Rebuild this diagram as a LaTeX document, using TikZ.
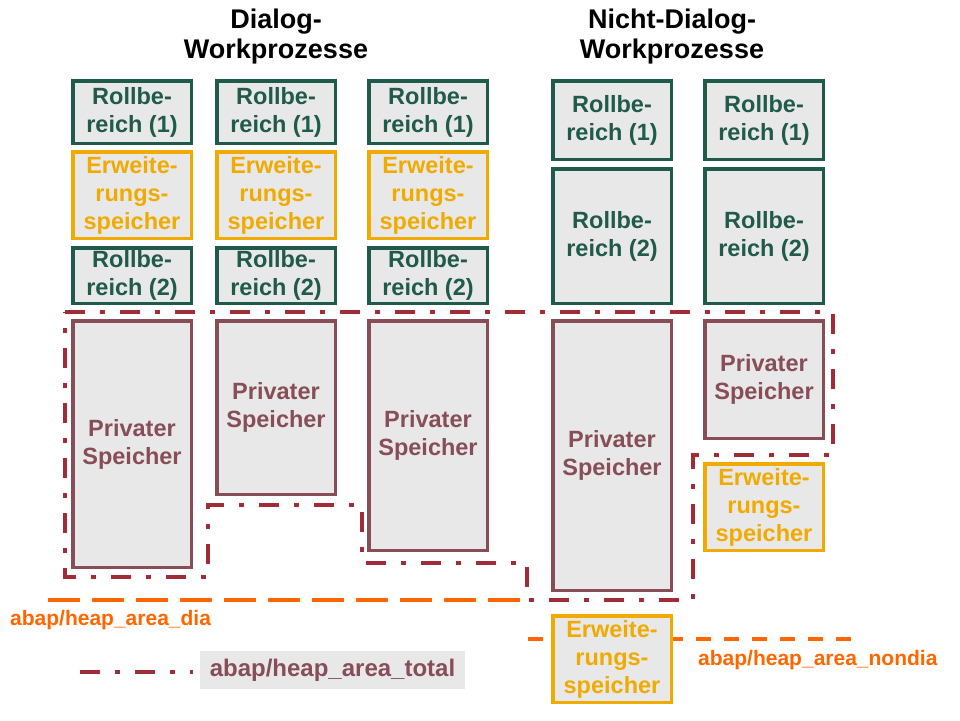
\documentclass[tikz,border=0pt]{standalone}
\usepackage{fontspec}
\setmainfont{Liberation Sans}
\usetikzlibrary{positioning}
\definecolor{rollGreen}{HTML}{1F5A4A}
\definecolor{erwOrange}{HTML}{F0AA00}
\definecolor{privBrown}{HTML}{874E57}
\definecolor{heapRed}{HTML}{A02C38}
\definecolor{heapOrange}{HTML}{FF6600}
\definecolor{boxGrey}{HTML}{E8E8E8}

\begin{document}
\begin{tikzpicture}[x=1pt, y=-1pt,
    memBox/.style={rectangle, draw, fill=boxGrey, line width=3.5pt, minimum width=118.5pt, align=center, inner sep=1pt, font=\fontsize{23.5}{28}\selectfont\bfseries},
    rollBox/.style={memBox, draw=rollGreen, text=rollGreen},
    erwBox/.style={memBox, draw=erwOrange, text=erwOrange, minimum height=86.5pt},
    privBox/.style={memBox, draw=privBrown, text=privBrown},
    titleText/.style={font=\fontsize{27}{30}\selectfont\bfseries, align=center},
    heapTotal/.style={draw=heapRed, line width=4pt, dash pattern=on 20pt off 15pt on 5pt off 15pt},
    heapLine/.style={draw=heapOrange, line width=4pt},
    heapLabel/.style={text=heapOrange, font=\fontsize{21}{24}\selectfont\bfseries, inner sep=0pt}
]
    \useasboundingbox (0,0) rectangle (960,720);

    % titles
    \node[titleText] (tDia) at (276,37) {Dialog-\\Workprozesse};
    \node[titleText] (tNondia) at (672,37) {Nicht-Dialog-\\Workprozesse};

    % dialog work processes
    \node[rollBox, minimum height=62.5pt] (r11) at (132,112) {Rollbe-\\reich (1)};
    \node[erwBox, below=5pt of r11] (e1) {Erweite-\\rungs-\\speicher};
    \node[rollBox, minimum height=55.5pt, below=6pt of e1] (r12) {Rollbe-\\reich (2)};
    \node[privBox, minimum height=246.5pt, below=14pt of r12] (p1) {Privater\\Speicher};

    \node[rollBox, minimum height=62.5pt] (r21) at (276,112) {Rollbe-\\reich (1)};
    \node[erwBox, below=5pt of r21] (e2) {Erweite-\\rungs-\\speicher};
    \node[rollBox, minimum height=55.5pt, below=6pt of e2] (r22) {Rollbe-\\reich (2)};
    \node[privBox, minimum height=173.5pt, below=14pt of r22] (p2) {Privater\\Speicher};

    \node[rollBox, minimum height=62.5pt] (r31) at (428,112) {Rollbe-\\reich (1)};
    \node[erwBox, below=5pt of r31] (e3) {Erweite-\\rungs-\\speicher};
    \node[rollBox, minimum height=55.5pt, below=6pt of e3] (r32) {Rollbe-\\reich (2)};
    \node[privBox, minimum height=229.5pt, below=14pt of r32] (p3) {Privater\\Speicher};

    % non-dialog work processes
    \coordinate (nondiaStart) at (528,639);
    \coordinate (nondiaEnd) at (855,639);
    \draw[heapLine, dash pattern=on 15pt off 13pt] (nondiaStart) -- (nondiaEnd);

    \node[rollBox, minimum height=78.5pt] (r41) at (612,120) {Rollbe-\\reich (1)};
    \node[rollBox, minimum height=134.5pt, below=6pt of r41] (r42) {Rollbe-\\reich (2)};
    \node[privBox, minimum height=269.5pt, below=14pt of r42] (p4) {Privater\\Speicher};
    \node[erwBox, below=22pt of p4] (e4) {Erweite-\\rungs-\\speicher};

    \node[rollBox, minimum height=78.5pt] (r51) at (764,120) {Rollbe-\\reich (1)};
    \node[rollBox, minimum height=134.5pt, below=6pt of r51] (r52) {Rollbe-\\reich (2)};
    \node[privBox, minimum height=117.5pt, below=14pt of r52] (p5) {Privater\\Speicher};
    \node[erwBox, below=22pt of p5] (e5) {Erweite-\\rungs-\\speicher};

    % heap areas
    \draw[heapTotal] (65,312) -- (833,312) -- (833,455) -- (693,455) -- (693,600) -- (527,600)
        -- (527,563) -- (362,563) -- (362,505) -- (208,505) -- (208,577) -- (65,577) -- cycle;

    \coordinate (diaStart) at (48,600);
    \coordinate (diaEnd) at (520,600);
    \draw[heapLine, dash pattern=on 32pt off 12pt] (diaStart) -- (diaEnd);
    \node[heapLabel, anchor=west] (diaLabel) at (10,620) {abap/heap\_area\_dia};
    \node[heapLabel, anchor=west] (nondiaLabel) at (698,660) {abap/heap\_area\_nondia};

    % legend
    \node[fill=boxGrey, minimum width=265pt, minimum height=38pt, inner sep=0pt, text=privBrown,
        font=\fontsize{24}{26}\selectfont\bfseries] (lgTotal) at (332.5,670) {abap/heap\_area\_total};
    \coordinate (lgStart) at (80,672);
    \draw[heapTotal, shorten >=7pt] (lgStart) -- (lgStart -| lgTotal.west);
\end{tikzpicture}
\end{document}
